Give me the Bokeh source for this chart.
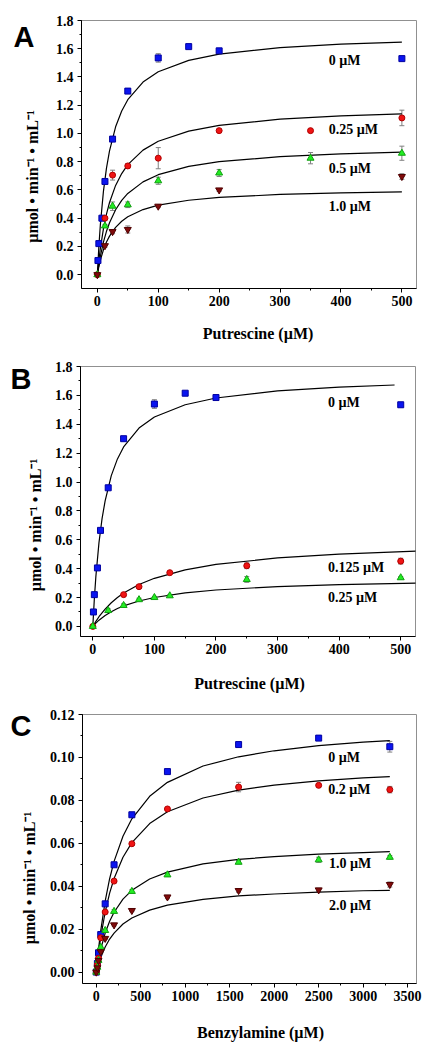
import math
from bokeh.plotting import figure
from bokeh.layouts import column, row
from bokeh.models import (Label, Whisker, TeeHead, ColumnDataSource,
                          SingleIntervalTicker, NumeralTickFormatter)
from bokeh.embed import file_html
from bokeh.resources import INLINE

# ---------------- Panel A data (Putrescine) ----------------
a_x0 = [1, 2.5, 7.5, 12.5, 25, 50, 100, 150, 200, 500]
a_y0 = [0.10, 0.22, 0.40, 0.66, 0.96, 1.30, 1.535, 1.615, 1.585, 1.53]
a_e0 = [0.005, 0.01, 0.01, 0.01, 0.01, 0.01, 0.03, 0.01, 0.01, 0.015]
a_x1 = [0, 12.5, 25, 50, 100, 200, 350, 500]
a_y1 = [0, 0.40, 0.705, 0.77, 0.825, 1.02, 1.02, 1.11]
a_e1 = [0, 0.01, 0.035, 0.015, 0.075, 0.01, 0.01, 0.055]
a_x2 = [0, 12.5, 25, 50, 100, 200, 350, 500]
a_y2 = [0, 0.345, 0.485, 0.495, 0.665, 0.72, 0.825, 0.86]
a_e2 = [0, 0.01, 0.03, 0.02, 0.025, 0.025, 0.04, 0.05]
a_x3 = [0, 12.5, 25, 50, 100, 200, 500]
a_y3 = [0, 0.205, 0.305, 0.32, 0.485, 0.60, 0.695]
a_e3 = [0, 0.01, 0.015, 0.025, 0.01, 0.01, 0.02]
a_cx = [0, 2.5, 5, 10, 15, 20, 30, 40, 50, 75, 100, 150, 200, 300, 400, 500]
a_c0 = [0, 0.199, 0.356, 0.590, 0.754, 0.877, 1.047, 1.159, 1.239, 1.364, 1.437, 1.518, 1.562, 1.608, 1.632, 1.647]
a_c1 = [0, 0.102, 0.188, 0.324, 0.429, 0.511, 0.632, 0.716, 0.779, 0.882, 0.945, 1.017, 1.057, 1.101, 1.124, 1.139]
a_c2 = [0, 0.071, 0.131, 0.230, 0.307, 0.368, 0.460, 0.526, 0.575, 0.657, 0.708, 0.767, 0.800, 0.836, 0.856, 0.868]
a_c3 = [0, 0.056, 0.103, 0.176, 0.231, 0.273, 0.335, 0.378, 0.410, 0.461, 0.492, 0.527, 0.547, 0.568, 0.579, 0.586]
a_labels = ["0 µM", "0.25 µM", "0.5 µM", "1.0 µM"]

# ---------------- Panel B data (Putrescine) ----------------
b_x0 = [1, 2.5, 7.5, 12.5, 25, 50, 100, 150, 200, 500]
b_y0 = [0.10, 0.22, 0.405, 0.665, 0.96, 1.30, 1.54, 1.615, 1.585, 1.535]
b_e0 = [0.005, 0.01, 0.01, 0.01, 0.01, 0.01, 0.03, 0.01, 0.01, 0.015]
b_x1 = [0, 50, 75, 125, 250, 500]
b_y1 = [0, 0.22, 0.275, 0.372, 0.42, 0.452]
b_e1 = [0, 0.008, 0.01, 0.008, 0.02, 0.02]
b_x2 = [0, 25, 50, 75, 100, 125, 250, 500]
b_y2 = [0, 0.11, 0.145, 0.185, 0.20, 0.212, 0.325, 0.337]
b_e2 = [0, 0.012, 0.012, 0.01, 0.008, 0.008, 0.02, 0.008]
b_cx0 = [0, 2.5, 5, 10, 15, 20, 30, 40, 50, 75, 100, 150, 200, 300, 400, 490]
b_c0 = [0, 0.193, 0.348, 0.580, 0.746, 0.870, 1.044, 1.160, 1.243, 1.374, 1.450, 1.535, 1.582, 1.631, 1.657, 1.672]
b_cx = [0, 5, 10, 20, 30, 40, 50, 75, 100, 150, 200, 300, 400, 525]
b_c1 = [0, 0.035, 0.067, 0.120, 0.164, 0.200, 0.231, 0.290, 0.333, 0.391, 0.429, 0.474, 0.500, 0.521]
b_c2 = [0, 0.023, 0.043, 0.076, 0.102, 0.124, 0.142, 0.176, 0.200, 0.232, 0.252, 0.276, 0.289, 0.300]
b_labels = ["0 µM", "0.125 µM", "0.25 µM"]

# ---------------- Panel C data (Benzylamine) ----------------
c_x = [0, 12.5, 25, 50, 100, 200, 400, 800, 1600, 2500, 3300]
c_y0 = [0, 0.004, 0.009, 0.0175, 0.0318, 0.050, 0.0733, 0.0934, 0.106, 0.109, 0.105]
c_e0 = [0, 0.0003, 0.0003, 0.0005, 0.0005, 0.0005, 0.0005, 0.0005, 0.0005, 0.0005, 0.0025]
c_y1 = [0, 0.0035, 0.0065, 0.016, 0.028, 0.0424, 0.0598, 0.076, 0.0862, 0.087, 0.085]
c_e1 = [0, 0.0003, 0.0003, 0.0005, 0.0005, 0.0005, 0.0005, 0.0005, 0.0022, 0.0008, 0.0015]
c_y2 = [0, 0.0023, 0.0055, 0.0116, 0.0194, 0.0283, 0.0376, 0.0453, 0.0512, 0.0523, 0.0535]
c_e2 = [0, 0.0003, 0.0003, 0.0005, 0.0005, 0.0008, 0.0008, 0.0008, 0.0008, 0.0012, 0.0008]
c_y3 = [0, 0.002, 0.0054, 0.0095, 0.0157, 0.022, 0.0287, 0.035, 0.038, 0.0383, 0.0408]
c_e3 = [0, 0.0003, 0.0003, 0.0005, 0.0005, 0.0005, 0.0005, 0.0008, 0.0008, 0.0008, 0.0012]
c_cx = [0, 25, 50, 100, 150, 200, 300, 400, 600, 800, 1200, 1600, 2000, 2500, 3000, 3300]
c_c0 = [0, 0.0106, 0.0193, 0.0331, 0.0435, 0.0516, 0.0633, 0.0714, 0.0819, 0.0884, 0.0960, 0.1003, 0.1031, 0.1055, 0.1071, 0.1078]
c_c1 = [0, 0.0089, 0.0163, 0.0280, 0.0368, 0.0436, 0.0535, 0.0603, 0.0692, 0.0747, 0.0811, 0.0848, 0.0871, 0.0891, 0.0905, 0.0911]
c_c2 = [0, 0.0059, 0.0107, 0.0182, 0.0237, 0.0279, 0.0340, 0.0381, 0.0434, 0.0466, 0.0504, 0.0525, 0.0538, 0.0550, 0.0557, 0.0561]
c_c3 = [0, 0.0037, 0.0068, 0.0117, 0.0154, 0.0182, 0.0224, 0.0252, 0.0289, 0.0312, 0.0339, 0.0355, 0.0364, 0.0373, 0.0379, 0.0381]
c_labels = ["0 µM", "0.2 µM", "1.0 µM", "2.0 µM"]

panel_letters = ["A", "B", "C"]
x_titles = ["Putrescine (µM)", "Putrescine (µM)", "Benzylamine (µM)"]
y_title = "µmol • min⁻¹ • mL⁻¹"

SERIF = "Liberation Serif"
SANS = "Liberation Sans"

STYLES = [
    dict(marker="square", fill_color="#0a14f0", line_color="#0000a0", size=6),
    dict(marker="circle", fill_color="#f01414", line_color="#b00000", size=6),
    dict(marker="triangle", fill_color="#22ee22", line_color="#10a010", size=7),
    dict(marker="inverted_triangle", fill_color="#800a0a", line_color="#500000", size=7),
]

STRIP_W = 46      # left strip holding the panel letter and the y title
MAIN_W = 388      # main plot width
FULL_W = STRIP_W + MAIN_W


def make_fig(h, xr, yr, bl, br, bt, bb, xint, yint, yfmt):
    p = figure(width=MAIN_W, height=h, x_range=xr, y_range=yr,
               output_backend="svg", toolbar_location=None,
               min_border_left=bl, min_border_right=br,
               min_border_top=bt, min_border_bottom=bb)
    p.xgrid.visible = False
    p.ygrid.visible = False
    p.outline_line_color = "#909090"
    p.outline_line_width = 1
    p.background_fill_color = "white"
    p.border_fill_color = "white"
    p.xaxis.ticker = SingleIntervalTicker(interval=xint, num_minor_ticks=2)
    p.yaxis.ticker = SingleIntervalTicker(interval=yint, num_minor_ticks=2)
    p.yaxis.formatter = NumeralTickFormatter(format=yfmt)
    for ax in (p.xaxis[0], p.yaxis[0]):
        ax.axis_line_color = "black"
        ax.axis_line_width = 1
        ax.major_tick_line_color = "black"
        ax.minor_tick_line_color = "black"
        ax.major_tick_out = 4
        ax.major_tick_in = 0
        ax.minor_tick_out = 2
        ax.minor_tick_in = 0
        ax.major_label_text_font = SERIF
        ax.major_label_text_font_style = "bold"
        ax.major_label_text_font_size = "14px"
        ax.major_label_text_color = "black"
    p.xaxis[0].major_label_standoff = 3
    p.yaxis[0].major_label_standoff = 4
    return p


def strip(w, h, fh=None, bt=0, bb=0):
    # fh: height of the plotting frame of the strip (in a row, the strip's
    # frame lines up with the neighbouring plot's frame)
    fh = h if fh is None else fh
    s = figure(width=w, height=h, x_range=(0, w), y_range=(0, fh),
               output_backend="svg", toolbar_location=None,
               min_border_left=0, min_border_right=0,
               min_border_top=bt, min_border_bottom=bb,
               x_axis_location=None, y_axis_location=None)
    s.grid.visible = False
    s.outline_line_color = None
    s.background_fill_color = "white"
    s.border_fill_color = "white"
    return s


def add_series(p, xs, ys, es, st):
    up = [y + e for y, e in zip(ys, es) if e > 0]
    lo = [y - e for y, e in zip(ys, es) if e > 0]
    bx = [x for x, e in zip(xs, es) if e > 0]
    wsrc = ColumnDataSource(dict(base=bx, upper=up, lower=lo))
    w = Whisker(source=wsrc, base="base", upper="upper", lower="lower",
                line_color="#808080", line_width=1,
                upper_head=TeeHead(size=5, line_color="#808080", line_width=1),
                lower_head=TeeHead(size=5, line_color="#808080", line_width=1))
    p.add_layout(w)
    p.scatter(xs, ys, **st)


def add_curve(p, xs, ys):
    p.line(xs, ys, line_color="black", line_width=1.2)


def txt(p, x, y, s, size="14px", font=SERIF, align="left", baseline="middle", angle=0.0):
    p.add_layout(Label(x=x, y=y, text=s, text_font=font, text_font_style="bold",
                       text_font_size=size, text_color="black", text_align=align,
                       text_baseline=baseline, angle=angle))


def side_strip(h, bt, bb, letter, lx, ly, tx, ty):
    s = strip(STRIP_W, h, h - bt - bb, bt, bb)
    txt(s, lx, ly, letter, size="29px", font=SANS)
    txt(s, tx, ty, y_title, size="16px", align="center", angle=math.pi / 2)
    return s


def bottom_strip(h, title, tx, ty):
    s = strip(FULL_W, h)
    txt(s, tx, ty, title, size="16px", align="center")
    return s


# ---------------- Panel A ----------------
pa = make_fig(314, (-26, 524), (-0.098, 1.8), 35, 18, 20, 26, 100, 0.2, "0.0")
for cy in (a_c0, a_c1, a_c2, a_c3):
    add_curve(pa, a_cx, cy)
for (xs, ys, es), st in zip([(a_x0, a_y0, a_e0), (a_x1, a_y1, a_e1),
                             (a_x2, a_y2, a_e2), (a_x3, a_y3, a_e3)], STYLES):
    add_series(pa, xs, ys, es, st)
for lab, ly in zip(a_labels, [1.52, 1.03, 0.755, 0.485]):
    txt(pa, 380, ly, lab)
sa = side_strip(314, 20, 26, panel_letters[0], 13, 252, 32, 112)
ba = bottom_strip(41, x_titles[0], 257.5, 22)

# ---------------- Panel B ----------------
pb = make_fig(307, (-20, 524), (-0.07, 1.8), 34, 19, 11, 26, 100, 0.2, "0.0")
add_curve(pb, b_cx0, b_c0)
add_curve(pb, b_cx, b_c1)
add_curve(pb, b_cx, b_c2)
for (xs, ys, es), st in zip([(b_x0, b_y0, b_e0), (b_x1, b_y1, b_e1),
                             (b_x2, b_y2, b_e2)], STYLES[:3]):
    add_series(pb, xs, ys, es, st)
for lab, ly in zip(b_labels, [1.549, 0.41, 0.203]):
    txt(pb, 382, ly, lab)
sb = side_strip(307, 11, 26, panel_letters[1], 10, 258, 35, 111.5)
bb = bottom_strip(40, x_titles[1], 249, 19)

# ---------------- Panel C ----------------
pc = make_fig(307, (-155, 3600), (-0.0053, 0.12), 35, 18, 12, 26, 500, 0.02, "0.00")
for cy in (c_c0, c_c1, c_c2, c_c3):
    add_curve(pc, c_cx, cy)
for (ys, es), st in zip([(c_y0, c_e0), (c_y1, c_e1), (c_y2, c_e2), (c_y3, c_e3)], STYLES):
    add_series(pc, c_x, ys, es, st)
for lab, lx, ly in zip(c_labels, [2607, 2607, 2615, 2615], [0.1001, 0.0849, 0.0504, 0.031]):
    txt(pc, lx, ly, lab)
sc = side_strip(307, 12, 26, panel_letters[2], 10, 258, 29, 105.5)
bc = bottom_strip(41, x_titles[2], 260, 18)

layout = column(row(sa, pa, spacing=0), ba,
                row(sb, pb, spacing=0), bb,
                row(sc, pc, spacing=0), bc, spacing=0)
open("out.html", "w").write(file_html(layout, INLINE))
